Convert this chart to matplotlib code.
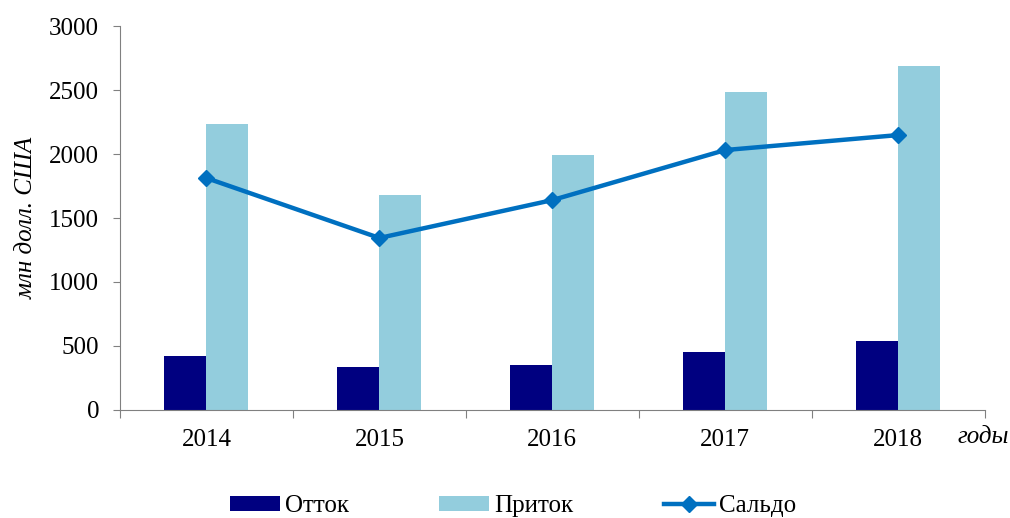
import matplotlib.pyplot as plt
import numpy as np

years = ['2014', '2015', '2016', '2017', '2018']
outflow = [422, 336, 352, 453, 539]
inflow = [2234, 1680, 1992, 2484, 2687]
saldo = [1812, 1344, 1640, 2031, 2148]

plt.rcParams['font.family'] = ['Liberation Serif', 'DejaVu Serif']

fig = plt.figure(figsize=(10.1, 5.18), dpi=100)
ax = fig.add_axes([0.1188, 0.2085, 0.8562, 0.7413])

x = np.arange(len(years))
w = 0.243
ax.bar(x - w / 2, outflow, w, color='#000080', label='Отток')
ax.bar(x + w / 2, inflow, w, color='#93CDDD', label='Приток')
ax.plot(x, saldo, color='#0070C0', lw=3.2, marker='D', ms=8, label='Сальдо')

ax.set_xlim(-0.5, len(years) - 0.5)
ax.set_ylim(0, 3000)
ax.set_yticks(range(0, 3001, 500))
ax.set_xticks(np.arange(-0.5, len(years), 1.0))
ax.set_xticklabels([])
ax.set_xticks(x, minor=True)
ax.set_xticklabels(years, minor=True)
ax.tick_params(axis='x', which='minor', length=0, pad=14, labelsize=18)
ax.tick_params(axis='x', which='major', length=6, color='#808080', direction='out')
ax.tick_params(axis='y', length=5, color='#808080', labelsize=18, pad=10)

for s in ['top', 'right']:
    ax.spines[s].set_visible(False)
ax.spines['left'].set_color('#808080')
ax.spines['bottom'].set_color('#808080')

ax.set_ylabel('млн долл. США', fontsize=18, style='italic', labelpad=8)
fig.text(0.948, 0.156, 'годы', fontsize=18, style='italic', ha='left', va='center')

handles, labels = ax.get_legend_handles_labels()
order = [1, 2, 0]
fig.legend([handles[i] for i in order], [labels[i] for i in order],
           loc='lower center', bbox_to_anchor=(0.508, -0.042), ncol=3, frameon=False,
           fontsize=18, handlelength=2.0, handleheight=0.6, columnspacing=3.6,
           handletextpad=0.2)

fig.savefig('out.png', dpi=100)
